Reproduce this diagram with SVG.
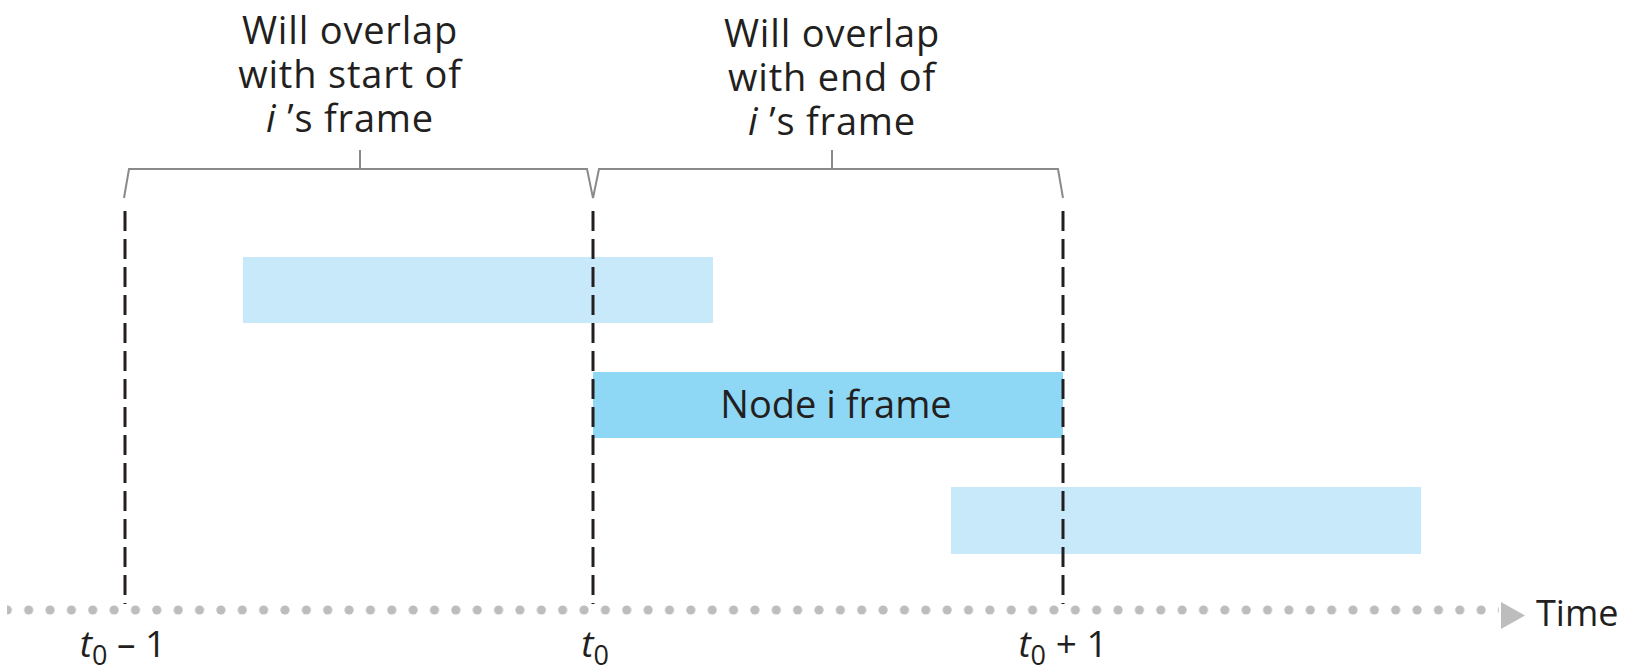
<svg xmlns="http://www.w3.org/2000/svg" width="1638" height="669" viewBox="0 0 1638 669">
<style>
.lbl{font-family:"Open Sans","Noto Sans","Liberation Sans",sans-serif;font-size:36px;fill:#231F20}
.top{font-size:38px;letter-spacing:0.8px}
.node{font-size:38px}
.tick{font-size:37px}
.it{font-style:italic}
.sub{font-size:27px}
.dash{stroke:#231F20;stroke-width:3;stroke-dasharray:20 8;fill:none}
.brace{stroke:#8A8A8A;stroke-width:2;fill:none}
.light{fill:#C7E9F9}
.dark{fill:#8ED8F6}
</style>
<defs>
<pattern id="dots" x="-3.36" y="0" width="21.36" height="20" patternUnits="userSpaceOnUse">
<circle cx="10.68" cy="10" r="4.6" fill="#BDBDBD"/>
</pattern>
</defs>
<rect width="1638" height="669" fill="#FFFFFF"/>

<g id="frame-prev">
<rect class="light" x="243" y="257" width="470" height="66"/>
</g>
<g id="frame-node-i">
<rect class="dark" x="593" y="372" width="470" height="66"/>
<text class="lbl node" x="836" y="418" text-anchor="middle">Node i frame</text>
</g>
<g id="frame-next">
<rect class="light" x="951" y="487" width="470" height="67"/>
</g>

<g id="connectors">
<line class="dash" x1="125" y1="211" x2="125" y2="604"/>
<line class="dash" x1="593" y1="211" x2="593" y2="604"/>
<line class="dash" x1="1063" y1="211" x2="1063" y2="604"/>
<path class="brace" d="M124,198 L129,169 L587,169 L593,198 L599,169 L1058,169 L1063,198"/>
<line class="brace" x1="360" y1="150" x2="360" y2="169"/>
<line class="brace" x1="832" y1="150" x2="832" y2="169"/>
</g>

<g id="time-axis">
<rect x="7" y="605" width="1492" height="20" fill="url(#dots)"/>
<polygon points="1501,602 1525,615.5 1501,629" fill="#BDBDBD"/>
<text class="lbl" x="1536" y="626">Time</text>
</g>

<g id="label-start">
<text class="lbl top" text-anchor="middle" x="350"><tspan x="350" y="44">Will overlap</tspan><tspan x="350" y="88">with start of</tspan><tspan x="350" y="132"><tspan class="it">i</tspan> ’s frame</tspan></text>
</g>
<g id="label-end">
<text class="lbl top" text-anchor="middle" x="832"><tspan x="832" y="47">Will overlap</tspan><tspan x="832" y="91">with end of</tspan><tspan x="832" y="135"><tspan class="it">i</tspan> ’s frame</tspan></text>
</g>

<g id="tick-labels">
<text class="lbl tick" x="123" y="657" text-anchor="middle"><tspan class="it">t</tspan><tspan class="sub" dy="8">0</tspan><tspan dy="-8"> – 1</tspan></text>
<text class="lbl tick" x="595" y="657" text-anchor="middle"><tspan class="it">t</tspan><tspan class="sub" dy="8">0</tspan></text>
<text class="lbl tick" x="1063" y="657" text-anchor="middle"><tspan class="it">t</tspan><tspan class="sub" dy="8">0</tspan><tspan dy="-8"> + 1</tspan></text>
</g>
</svg>
